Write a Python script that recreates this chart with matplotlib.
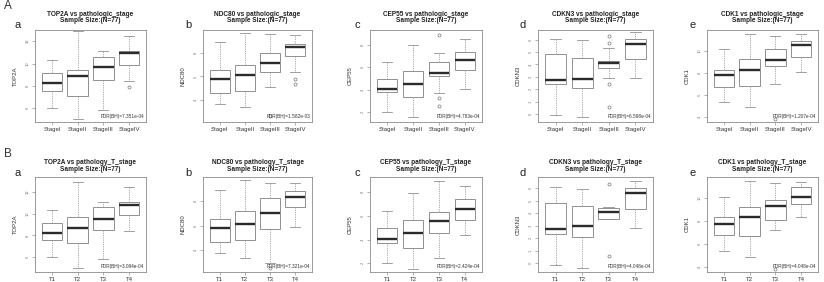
"""two rows of boxplots: gene expression by pathologic stage (A) and T stage (B)"""

import matplotlib
matplotlib.use('Agg')
import matplotlib.pyplot as plt

plt.rcParams['font.family'] = ['Liberation Sans', 'DejaVu Sans']

stages = ['StageI', 'StageII', 'StageIII', 'StageIV']
t_stages = ['T1', 'T2', 'T3', 'T4']

# box stats per group: [whisker low, Q1, median, Q3, whisker high] (tick units)
top2a_stage = [[1.00, 1.79, 2.13, 2.57, 3.18], [0.51, 1.53, 2.45, 2.70, 4.45],
               [0.92, 2.26, 2.84, 3.28, 3.56], [2.23, 2.92, 3.47, 3.54, 4.23]]
ndc80_stage = [[0.83, 1.28, 1.91, 2.26, 3.45], [0.69, 1.39, 2.05, 2.51, 3.87],
               [1.56, 2.19, 2.59, 3.00, 3.80], [2.19, 2.89, 3.24, 3.38, 3.77]]
cep55_stage = [[1.01, 1.87, 2.04, 2.47, 3.22], [0.75, 1.65, 2.23, 2.83, 3.99],
               [1.84, 2.59, 2.76, 3.24, 3.63], [2.04, 2.89, 3.34, 3.71, 4.27]]
cdkn3_stage = [[0.92, 3.43, 3.78, 5.87, 7.06], [0.71, 3.09, 3.86, 5.55, 6.95],
               [3.88, 4.73, 5.15, 5.29, 6.34], [3.88, 5.42, 6.66, 7.06, 7.59]]
cdk1_stage = [[1.67, 2.37, 2.89, 3.15, 4.07], [1.45, 2.41, 3.15, 3.64, 4.74],
              [2.52, 3.33, 3.60, 4.08, 4.67], [3.04, 3.70, 4.27, 4.45, 4.74]]

top2a_t = [[1.03, 1.80, 2.13, 2.55, 3.17], [0.52, 1.63, 2.34, 2.84, 4.44],
           [0.92, 2.27, 2.75, 3.31, 3.55], [2.22, 2.92, 3.40, 3.52, 4.21]]
ndc80_t = [[0.86, 1.31, 1.92, 2.28, 3.46], [0.69, 1.42, 2.06, 2.58, 3.85],
           [0.45, 1.88, 2.51, 3.14, 3.76], [1.94, 2.76, 3.19, 3.40, 3.76]]
cep55_t = [[1.03, 1.86, 2.03, 2.49, 3.22], [0.74, 1.65, 2.28, 2.82, 3.97],
           [1.24, 2.29, 2.79, 3.18, 4.47], [2.21, 2.82, 3.28, 3.71, 4.26]]
cdkn3_t = [[0.89, 3.36, 3.76, 5.83, 7.08], [0.66, 3.10, 4.00, 5.56, 6.94],
           [4.50, 4.50, 5.11, 5.43, 5.48], [3.84, 5.30, 6.57, 7.00, 7.55]]
cdk1_t = [[1.68, 2.40, 2.89, 3.16, 4.07], [1.44, 2.37, 3.16, 3.63, 4.74],
          [2.62, 3.04, 3.67, 3.90, 4.66], [3.19, 3.73, 4.07, 4.47, 4.72]]

# outliers per group
top2a_stage_out = [[], [], [], [1.96]]
ndc80_stage_out = [[], [], [0.31], [1.88, 1.67]]
cep55_stage_out = [[], [], [4.46, 1.62, 1.26], []]
cdkn3_stage_out = [[], [], [7.32, 6.74, 3.41, 1.58], []]
cdk1_stage_out = [[], [], [0.93], []]
top2a_t_out = [[], [], [], []]
ndc80_t_out = [[], [], [0.27], []]
cep55_t_out = [[], [], [], []]
cdkn3_t_out = [[], [], [7.29, 1.58], []]
cdk1_t_out = [[], [], [0.93], []]

# y axis range and y tick values per panel
ylims_stage = [(0.39, 4.5), (0.06, 3.98), (0.54, 4.68), (0.34, 7.79), (0.78, 4.94)]
ylims_t = [(0.32, 4.68), (0.10, 3.99), (0.63, 4.64), (0.31, 7.88), (0.78, 4.92)]
ytick_vals = [[1, 2, 3, 4], [1, 2, 3], [1, 2, 3, 4], [1, 2, 3, 4, 5, 6, 7], [1, 2, 3, 4]]
ytick_labels = [['6', '8', '10', '12'], ['4', '6', '8'], ['2', '4', '6', '8'],
                ['0', '1', '2', '3', '4', '5', '6'], ['4', '6', '8', '10']]

genes = ['TOP2A', 'NDC80', 'CEP55', 'CDKN3', 'CDK1']
fdr_stage = ['7.351e-04', '1.582e-03', '4.783e-04', '6.598e-04', '1.207e-04']
fdr_t = ['3.094e-04', '7.321e-04', '2.424e-04', '4.048e-04', '4.048e-04']
letters = ['a', 'b', 'c', 'd', 'e']

W, H = 824, 282
fig = plt.figure(figsize=(W / 100, H / 100), dpi=100)

lefts = [35, 203, 370, 538, 707]
rights = [146, 312, 482, 653, 818]
letter_x = [18, 188, 357, 523, 693]

def px_axes(l, t, r, b):
    return fig.add_axes([l / W, 1 - b / H, (r - l) / W, (b - t) / H])

def draw_panel(ax, boxes, outs, groups, ylim, yt, ytl, gene, fdr):
    stats = []
    for b, o, g in zip(boxes, outs, groups):
        stats.append(dict(whislo=b[0], q1=b[1], med=b[2], q3=b[3], whishi=b[4],
                          fliers=o, label=g))
    ax.bxp(stats, positions=range(1, 5), widths=0.8, patch_artist=True,
           boxprops=dict(facecolor='white', edgecolor='#909090', linewidth=0.7),
           medianprops=dict(color='#2b2b2b', linewidth=1.7),
           whiskerprops=dict(color='#a0a0a0', linewidth=0.6, linestyle=(0, (1.5, 1.2))),
           capprops=dict(color='#909090', linewidth=0.6),
           flierprops=dict(marker='o', markersize=2.2, markerfacecolor='none',
                           markeredgecolor='#777777', markeredgewidth=0.5))
    ax.set_xlim(0.34, 4.66)
    ax.set_ylim(*ylim)
    ax.set_yticks(yt)
    ax.set_yticklabels(ytl, fontsize=3, rotation=90, va='center', color='#555555')
    ax.tick_params(axis='both', length=2, width=0.4, colors='#777777', pad=1.5)
    ax.tick_params(axis='x', labelsize=4.3, labelcolor='#333333')
    ax.set_ylabel(gene, fontsize=4.3, color='#333333', labelpad=6)
    for s in ax.spines.values():
        s.set_color('#8a8a8a')
        s.set_linewidth(0.6)
    ax.text(0.985, 0.03, f'FDR(BH)={fdr}', transform=ax.transAxes, ha='right',
            va='bottom', fontsize=3.4, color='#333333')

rows = [
    dict(top=30, bottom=122, title_y=(14, 21), letter_y=25, label='A', label_y=6,
         groups=stages, suffix='pathologic_stage', ylims=ylims_stage, fdr=fdr_stage,
         boxes=[top2a_stage, ndc80_stage, cep55_stage, cdkn3_stage, cdk1_stage],
         outs=[top2a_stage_out, ndc80_stage_out, cep55_stage_out, cdkn3_stage_out, cdk1_stage_out]),
    dict(top=177, bottom=272, title_y=(163, 169.5), letter_y=173, label='B', label_y=154,
         groups=t_stages, suffix='pathology_T_stage', ylims=ylims_t, fdr=fdr_t,
         boxes=[top2a_t, ndc80_t, cep55_t, cdkn3_t, cdk1_t],
         outs=[top2a_t_out, ndc80_t_out, cep55_t_out, cdkn3_t_out, cdk1_t_out]),
]

for row in rows:
    fig.text(4 / W, 1 - row['label_y'] / H, row['label'], fontsize=8.5, color='#333333',
             ha='left', va='center')
    for i in range(5):
        ax = px_axes(lefts[i], row['top'], rights[i], row['bottom'])
        draw_panel(ax, row['boxes'][i], row['outs'][i], row['groups'], row['ylims'][i],
                   ytick_vals[i], ytick_labels[i], genes[i], row['fdr'][i])
        cx = (lefts[i] + rights[i]) / 2 / W
        fig.text(cx, 1 - row['title_y'][0] / H, f'{genes[i]} vs {row["suffix"]}',
                 fontsize=4.7, fontweight='bold', ha='center', va='center', color='#222222')
        fig.text(cx, 1 - row['title_y'][1] / H, 'Sample Size:(N=77)',
                 fontsize=4.7, fontweight='bold', ha='center', va='center', color='#222222')
        fig.text(letter_x[i] / W, 1 - row['letter_y'] / H, letters[i], fontsize=8,
                 ha='center', va='center', color='#222222')

fig.savefig('out.png', dpi=100)
